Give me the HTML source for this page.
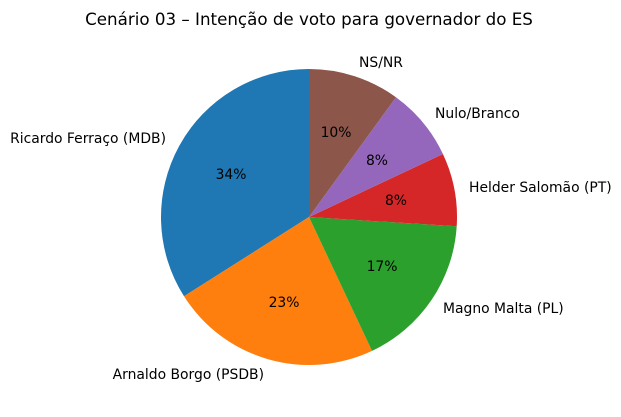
<!DOCTYPE html>
<html><head><meta charset="utf-8"><style>html,body{margin:0;padding:0;background:#fff}</style></head>
<body>
<svg width="621" height="412" viewBox="0 0 621 412" xmlns="http://www.w3.org/2000/svg" font-family="'DejaVu Sans','Liberation Sans',sans-serif">
<rect width="621" height="412" fill="#fff"/>
<g>
<path d="M309,217 L309,69 A148,148 0 0 0 184.04,296.30 Z" fill="#1f77b4"/>
<path d="M309,217 L184.04,296.30 A148,148 0 0 0 372.02,350.91 Z" fill="#ff7f0e"/>
<path d="M309,217 L372.02,350.91 A148,148 0 0 0 456.71,226.29 Z" fill="#2ca02c"/>
<path d="M309,217 L456.71,226.29 A148,148 0 0 0 442.91,153.98 Z" fill="#d62728"/>
<path d="M309,217 L442.91,153.98 A148,148 0 0 0 395.99,97.27 Z" fill="#9467bd"/>
<path d="M309,217 L395.99,97.27 A148,148 0 0 0 309,69 Z" fill="#8c564b"/>
</g>
<g font-size="13.9" fill="#000" dominant-baseline="central">
<text x="309" y="19" font-size="16.7" text-anchor="middle">Cenário 03 – Intenção de voto para governador do ES</text>
<text x="231" y="175" text-anchor="middle">34%</text>
<text x="284" y="303" text-anchor="middle">23%</text>
<text x="382" y="267" text-anchor="middle">17%</text>
<text x="396" y="201" text-anchor="middle">8%</text>
<text x="377" y="161" text-anchor="middle">8%</text>
<text x="336" y="133" text-anchor="middle">10%</text>
<text x="166" y="139" text-anchor="end">Ricardo Ferraço (MDB)</text>
<text x="264" y="375" text-anchor="end">Arnaldo Borgo (PSDB)</text>
<text x="443" y="309">Magno Malta (PL)</text>
<text x="469" y="188">Helder Salomão (PT)</text>
<text x="435" y="114">Nulo/Branco</text>
<text x="381" y="63" text-anchor="middle">NS/NR</text>
</g>
</svg>
</body></html>
